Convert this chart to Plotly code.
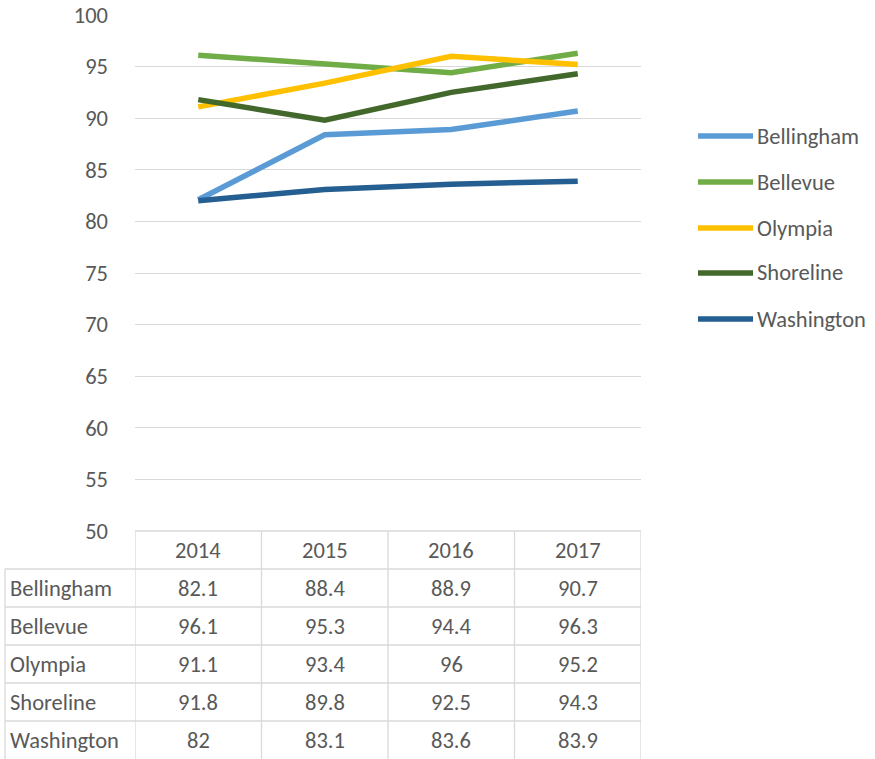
import plotly.graph_objects as go

years = ["2014", "2015", "2016", "2017"]
cities = ["Bellingham", "Bellevue", "Olympia", "Shoreline", "Washington"]
bellingham = [82.1, 88.4, 88.9, 90.7]
bellevue = [96.1, 95.3, 94.4, 96.3]
olympia = [91.1, 93.4, 96, 95.2]
shoreline = [91.8, 89.8, 92.5, 94.3]
washington = [82, 83.1, 83.6, 83.9]
series = [bellingham, bellevue, olympia, shoreline, washington]
colors = ["#5B9BD5", "#70AD47", "#FFC000", "#43682B", "#255E91"]

W, H = 875, 759
FONT = "Carlito, Lato, 'Open Sans', sans-serif"
FS = 22.5
TXT = "#595959"
GRID = "#d9d9d9"


def py(p):  # pixel y -> paper
    return 1 - p / H


def px_(p):  # pixel x -> paper
    return p / W


def label(x, y, text, xref="paper", xanchor="center"):
    return dict(x=x, y=y, xref=xref, yref="paper", text=text, xanchor=xanchor, yanchor="middle",
                showarrow=False, font=dict(size=FS, color=TXT, family=FONT))


fig = go.Figure()
for name, vals, c in zip(cities, series, colors):
    fig.add_trace(go.Scatter(x=list(range(len(years))), y=vals, name=name, mode="lines",
                             line=dict(color=c, width=5.5), showlegend=False))

shapes = []
annotations = []

# data table grid
row_top = 531
row_h = 38
n_rows = len(cities) + 1
bottom = row_top + row_h * n_rows
for k in range(len(years) + 1):
    shapes.append(dict(type="line", xref="x", yref="paper", x0=k - 0.5, x1=k - 0.5,
                       y0=py(row_top), y1=py(bottom), line=dict(color=GRID, width=1.3)))
shapes.append(dict(type="line", xref="paper", yref="paper", x0=px_(5), x1=px_(5),
                   y0=py(row_top + row_h), y1=py(bottom), line=dict(color=GRID, width=1.3)))
for r in range(n_rows):
    y = py(row_top + r * row_h)
    if r == 0:
        shapes.append(dict(type="line", xref="x", yref="paper", x0=-0.5, x1=len(years) - 0.5,
                           y0=y, y1=y, line=dict(color=GRID, width=1.3)))
    else:
        shapes.append(dict(type="line", xref="paper", yref="paper", x0=px_(5), x1=px_(641),
                           y0=y, y1=y, line=dict(color=GRID, width=1.3)))

for i, yr in enumerate(years):
    annotations.append(label(i, py(row_top + row_h / 2), yr, xref="x"))
for r, (name, vals) in enumerate(zip(cities, series)):
    yc = py(row_top + row_h * (r + 1) + row_h / 2)
    annotations.append(label(px_(8), yc, name, xanchor="left"))
    for i, v in enumerate(vals):
        annotations.append(label(i, yc, f"{v:g}", xref="x"))

# legend
leg_y = [136, 182, 228, 273, 319]
for name, c, ly in zip(cities, colors, leg_y):
    shapes.append(dict(type="line", xref="paper", yref="paper", x0=px_(698), x1=px_(753),
                       y0=py(ly), y1=py(ly), line=dict(color=c, width=5.5)))
    annotations.append(label(px_(755), py(ly), name, xanchor="left"))

fig.update_layout(
    width=W, height=H,
    margin=dict(l=0, r=0, t=0, b=0),
    plot_bgcolor="white", paper_bgcolor="white",
    font=dict(family=FONT, size=FS, color=TXT),
    shapes=shapes, annotations=annotations,
    showlegend=False,
    xaxis=dict(domain=[px_(135), px_(641)], range=[-0.5, len(years) - 0.5], automargin=False,
               showgrid=False, showticklabels=False, zeroline=False, showline=False),
    yaxis=dict(domain=[py(531), py(15)], range=[50, 100], dtick=5, automargin=False,
               showgrid=True, gridcolor=GRID, gridwidth=1.3, zeroline=False, showline=False,
               ticklabelstandoff=26, tickfont=dict(size=FS, color=TXT, family=FONT)),
)

fig.write_html("out.html", config={"displayModeBar": False},
               post_script="document.body.style.margin='0';")
